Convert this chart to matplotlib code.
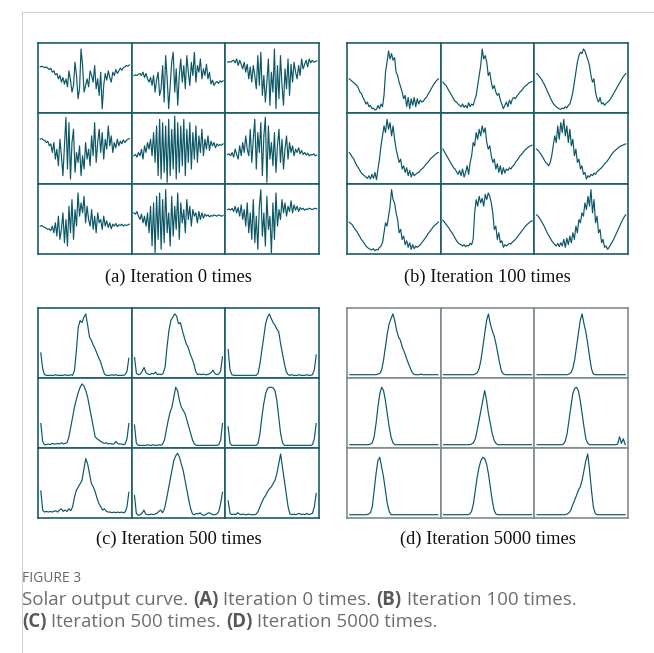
import numpy as np
import matplotlib
matplotlib.use("Agg")
import matplotlib.pyplot as plt

# ---------------- data (normalised, 0 = cell bottom, 1 = cell top) ----------------
a1 = [0.68,0.69,0.68,0.67,0.68,0.66,0.64,0.66,0.60,0.62,0.56,0.58,0.50,0.55,0.45,0.52,0.42,0.50,0.38,0.62,0.48,0.30,0.40,0.75,0.55,0.20,0.35,0.95,0.70,0.30,0.40,0.50,0.38,0.62,0.55,0.45,0.70,0.35,0.50,0.25,0.60,0.05,0.40,0.58,0.48,0.62,0.52,0.45,0.60,0.55,0.64,0.58,0.62,0.66,0.63,0.67,0.68,0.70,0.69,0.71]
a2 = [0.55,0.56,0.55,0.57,0.58,0.55,0.60,0.52,0.58,0.50,0.45,0.52,0.40,0.55,0.30,0.48,0.60,0.25,0.35,0.70,0.15,0.85,0.50,0.05,0.40,0.75,0.90,0.30,0.65,0.10,0.55,0.80,0.45,0.70,0.35,0.85,0.60,0.40,0.75,0.55,0.90,0.45,0.70,0.60,0.80,0.50,0.65,0.55,0.72,0.50,0.60,0.42,0.48,0.40,0.44,0.46,0.43,0.47,0.45,0.47]
a3 = [0.75,0.76,0.75,0.77,0.78,0.74,0.80,0.70,0.78,0.72,0.65,0.75,0.60,0.72,0.50,0.68,0.45,0.70,0.55,0.35,0.85,0.40,0.90,0.25,0.55,0.15,0.45,0.80,0.10,0.60,0.30,0.95,0.05,0.70,0.20,0.85,0.40,0.10,0.65,0.35,0.80,0.25,0.72,0.45,0.75,0.60,0.50,0.70,0.55,0.80,0.65,0.72,0.78,0.68,0.80,0.74,0.78,0.75,0.76,0.77]
a4 = [0.65,0.66,0.64,0.63,0.60,0.62,0.55,0.58,0.45,0.60,0.35,0.50,0.25,0.65,0.40,0.10,0.55,0.98,0.20,0.90,0.05,0.60,0.80,0.15,0.45,0.30,0.55,0.10,0.40,0.20,0.60,0.35,0.50,0.25,0.70,0.40,0.90,0.30,0.60,0.80,0.45,0.75,0.35,0.65,0.50,0.85,0.55,0.70,0.45,0.60,0.52,0.65,0.55,0.62,0.58,0.64,0.60,0.63,0.65,0.66]
a5 = [0.40,0.42,0.38,0.45,0.40,0.50,0.35,0.55,0.45,0.60,0.50,0.65,0.40,0.75,0.30,0.85,0.10,0.95,0.05,0.90,0.15,0.85,0.00,0.95,0.10,0.80,0.20,1.00,0.05,0.90,0.15,0.85,0.25,0.95,0.10,0.80,0.30,0.90,0.20,0.75,0.35,0.85,0.30,0.70,0.45,0.80,0.40,0.65,0.50,0.70,0.48,0.62,0.55,0.60,0.52,0.58,0.55,0.57,0.56,0.58]
a6 = [0.42,0.43,0.40,0.45,0.38,0.50,0.42,0.35,0.55,0.40,0.60,0.45,0.70,0.50,0.40,0.80,0.30,0.65,0.95,0.20,0.75,0.45,0.90,0.10,0.70,0.98,0.00,0.85,0.35,0.60,0.25,0.75,0.15,0.55,0.80,0.30,0.65,0.20,0.50,0.70,0.35,0.60,0.45,0.55,0.40,0.50,0.45,0.52,0.43,0.48,0.42,0.45,0.41,0.44,0.40,0.42,0.41,0.43,0.40,0.41]
a7 = [0.40,0.41,0.39,0.38,0.37,0.35,0.36,0.33,0.40,0.30,0.45,0.25,0.55,0.20,0.35,0.60,0.15,0.50,0.10,0.70,0.30,0.80,0.20,0.65,0.40,0.90,0.55,0.75,0.60,0.85,0.45,0.70,0.50,0.40,0.65,0.35,0.55,0.30,0.60,0.45,0.50,0.35,0.55,0.40,0.48,0.38,0.45,0.36,0.43,0.40,0.44,0.39,0.42,0.41,0.43,0.40,0.42,0.41,0.42,0.43]
a8 = [0.60,0.58,0.62,0.55,0.50,0.58,0.45,0.55,0.40,0.60,0.30,0.70,0.10,0.75,0.00,0.85,0.20,0.90,0.05,0.80,0.15,0.95,0.30,0.60,0.10,0.85,0.25,0.70,0.35,0.90,0.20,0.75,0.45,0.65,0.30,0.80,0.50,0.70,0.40,0.65,0.55,0.60,0.45,0.62,0.50,0.60,0.52,0.58,0.55,0.57,0.54,0.56,0.55,0.57,0.56,0.55,0.57,0.56,0.55,0.56]
a9 = [0.65,0.66,0.64,0.67,0.62,0.70,0.60,0.68,0.55,0.72,0.50,0.65,0.40,0.75,0.30,0.60,0.20,0.80,0.15,0.55,0.05,0.70,0.95,0.25,0.60,0.10,0.85,0.35,0.55,0.00,0.75,0.20,0.90,0.40,0.65,0.50,0.80,0.60,0.75,0.55,0.70,0.62,0.78,0.60,0.72,0.64,0.70,0.62,0.68,0.65,0.67,0.64,0.66,0.65,0.67,0.66,0.65,0.66,0.67,0.66]

b1 = [0.50,0.48,0.46,0.44,0.42,0.40,0.36,0.30,0.28,0.22,0.18,0.12,0.15,0.08,0.10,0.05,0.06,0.03,0.04,0.10,0.05,0.12,0.08,0.25,0.60,0.75,0.92,0.80,0.88,0.78,0.82,0.60,0.55,0.45,0.38,0.30,0.20,0.25,0.08,0.22,0.05,0.20,0.10,0.22,0.08,0.20,0.12,0.18,0.15,0.16,0.20,0.22,0.26,0.30,0.34,0.38,0.42,0.45,0.48,0.50]
b2 = [0.45,0.42,0.40,0.36,0.32,0.28,0.24,0.20,0.16,0.15,0.12,0.10,0.08,0.12,0.07,0.10,0.06,0.14,0.08,0.12,0.10,0.18,0.25,0.40,0.55,0.70,0.95,0.80,0.85,0.75,0.55,0.60,0.45,0.35,0.40,0.30,0.25,0.28,0.18,0.12,0.05,0.10,0.15,0.08,0.18,0.12,0.20,0.22,0.20,0.24,0.27,0.30,0.32,0.35,0.38,0.40,0.42,0.44,0.45,0.46]
b3 = [0.58,0.56,0.53,0.50,0.46,0.42,0.37,0.32,0.27,0.22,0.17,0.13,0.10,0.08,0.06,0.05,0.04,0.06,0.05,0.08,0.06,0.10,0.12,0.20,0.30,0.45,0.60,0.75,0.85,0.90,0.88,0.95,0.92,0.85,0.78,0.70,0.55,0.45,0.50,0.30,0.20,0.15,0.22,0.12,0.14,0.10,0.13,0.15,0.17,0.20,0.24,0.28,0.32,0.36,0.40,0.44,0.48,0.52,0.55,0.58]
b4 = [0.45,0.42,0.38,0.35,0.30,0.25,0.22,0.18,0.14,0.12,0.10,0.08,0.06,0.10,0.05,0.12,0.06,0.15,0.04,0.20,0.35,0.55,0.70,0.85,0.75,0.95,0.80,0.90,0.70,0.85,0.65,0.50,0.40,0.30,0.35,0.20,0.25,0.15,0.22,0.10,0.18,0.08,0.15,0.10,0.12,0.14,0.15,0.18,0.20,0.22,0.25,0.28,0.30,0.33,0.36,0.38,0.40,0.42,0.44,0.45]
b5 = [0.50,0.46,0.42,0.38,0.34,0.30,0.26,0.22,0.20,0.16,0.12,0.18,0.10,0.20,0.08,0.15,0.25,0.12,0.30,0.40,0.60,0.55,0.75,0.65,0.80,0.70,0.85,0.75,0.82,0.60,0.50,0.55,0.40,0.30,0.35,0.20,0.28,0.15,0.25,0.12,0.22,0.14,0.20,0.18,0.22,0.20,0.24,0.26,0.30,0.33,0.36,0.40,0.42,0.45,0.48,0.50,0.52,0.54,0.55,0.56]
b6 = [0.50,0.48,0.45,0.42,0.38,0.34,0.30,0.28,0.25,0.30,0.40,0.55,0.70,0.60,0.85,0.65,0.90,0.75,0.95,0.70,0.85,0.60,0.80,0.55,0.65,0.40,0.50,0.30,0.35,0.20,0.25,0.12,0.15,0.05,0.10,0.08,0.12,0.10,0.14,0.12,0.16,0.18,0.20,0.22,0.25,0.28,0.30,0.33,0.36,0.40,0.43,0.46,0.48,0.50,0.52,0.54,0.55,0.56,0.57,0.58]
b7 = [0.46,0.44,0.42,0.38,0.35,0.32,0.28,0.24,0.20,0.17,0.14,0.10,0.08,0.06,0.05,0.04,0.06,0.03,0.05,0.04,0.08,0.10,0.15,0.30,0.45,0.40,0.55,0.70,0.95,0.80,0.75,0.60,0.50,0.30,0.35,0.20,0.25,0.12,0.18,0.08,0.15,0.05,0.12,0.06,0.10,0.08,0.10,0.12,0.15,0.18,0.21,0.24,0.28,0.31,0.34,0.37,0.40,0.42,0.44,0.46]
b8 = [0.49,0.46,0.43,0.40,0.37,0.33,0.30,0.26,0.22,0.18,0.15,0.13,0.12,0.10,0.12,0.09,0.11,0.10,0.14,0.12,0.20,0.60,0.80,0.70,0.85,0.75,0.82,0.70,0.88,0.80,0.90,0.85,0.75,0.60,0.35,0.40,0.20,0.30,0.15,0.18,0.08,0.12,0.10,0.12,0.14,0.13,0.16,0.18,0.20,0.23,0.26,0.29,0.32,0.35,0.38,0.41,0.43,0.45,0.47,0.48]
b9 = [0.57,0.55,0.52,0.48,0.44,0.40,0.35,0.30,0.26,0.22,0.18,0.15,0.12,0.10,0.14,0.09,0.15,0.10,0.20,0.08,0.22,0.12,0.25,0.15,0.30,0.20,0.40,0.30,0.50,0.45,0.60,0.55,0.75,0.65,0.85,0.70,0.95,0.60,0.80,0.45,0.55,0.30,0.35,0.15,0.20,0.08,0.10,0.05,0.08,0.12,0.16,0.20,0.25,0.30,0.35,0.40,0.45,0.50,0.54,0.57]

c1 = [0.36,0.12,0.03,0.02,0.02,0.02,0.02,0.02,0.03,0.02,0.02,0.02,0.02,0.03,0.02,0.02,0.03,0.02,0.10,0.40,0.75,0.85,0.82,0.90,0.95,0.78,0.60,0.55,0.48,0.42,0.35,0.28,0.22,0.12,0.04,0.02,0.02,0.02,0.03,0.02,0.03,0.02,0.02,0.02,0.02,0.03,0.08,0.28]
c2 = [0.29,0.05,0.03,0.04,0.08,0.14,0.06,0.04,0.03,0.05,0.04,0.07,0.03,0.04,0.03,0.05,0.15,0.45,0.70,0.85,0.90,0.95,0.92,0.80,0.82,0.70,0.60,0.50,0.45,0.35,0.28,0.20,0.08,0.03,0.04,0.03,0.04,0.03,0.03,0.04,0.06,0.10,0.05,0.03,0.04,0.08,0.30]
c3 = [0.41,0.10,0.03,0.02,0.02,0.02,0.02,0.02,0.02,0.02,0.02,0.02,0.02,0.02,0.02,0.02,0.05,0.20,0.40,0.60,0.80,0.90,0.95,0.88,0.82,0.78,0.72,0.68,0.50,0.35,0.20,0.08,0.03,0.02,0.03,0.02,0.02,0.02,0.03,0.02,0.02,0.02,0.03,0.02,0.02,0.03,0.10,0.33]
c4 = [0.35,0.08,0.03,0.03,0.04,0.03,0.05,0.04,0.04,0.05,0.04,0.06,0.04,0.05,0.06,0.15,0.30,0.45,0.60,0.72,0.82,0.90,0.95,0.92,0.85,0.75,0.60,0.45,0.30,0.15,0.12,0.10,0.08,0.06,0.05,0.06,0.04,0.05,0.04,0.04,0.08,0.05,0.04,0.04,0.03,0.04,0.12,0.35]
c5 = [0.33,0.05,0.02,0.02,0.02,0.02,0.02,0.03,0.02,0.02,0.03,0.02,0.02,0.03,0.02,0.04,0.10,0.25,0.40,0.52,0.60,0.75,0.90,0.85,0.70,0.60,0.55,0.50,0.40,0.30,0.20,0.10,0.04,0.02,0.02,0.02,0.02,0.02,0.02,0.02,0.02,0.02,0.02,0.02,0.02,0.03,0.10,0.35]
c6 = [0.30,0.05,0.02,0.02,0.02,0.02,0.02,0.02,0.02,0.02,0.02,0.02,0.02,0.02,0.02,0.02,0.05,0.20,0.45,0.65,0.80,0.88,0.90,0.90,0.89,0.85,0.70,0.45,0.20,0.06,0.02,0.02,0.02,0.02,0.02,0.02,0.02,0.02,0.02,0.02,0.02,0.02,0.02,0.02,0.02,0.03,0.12,0.35]
c7 = [0.39,0.10,0.07,0.08,0.07,0.08,0.07,0.08,0.09,0.07,0.10,0.12,0.08,0.10,0.08,0.12,0.09,0.15,0.30,0.40,0.45,0.50,0.55,0.72,0.88,0.80,0.65,0.50,0.45,0.38,0.28,0.20,0.15,0.10,0.12,0.08,0.07,0.07,0.06,0.07,0.06,0.07,0.06,0.07,0.06,0.07,0.15,0.37]
c8 = [0.32,0.05,0.02,0.03,0.05,0.10,0.04,0.03,0.03,0.04,0.03,0.04,0.05,0.08,0.10,0.06,0.12,0.25,0.40,0.55,0.70,0.85,0.92,0.96,0.90,0.80,0.70,0.55,0.40,0.25,0.12,0.04,0.03,0.05,0.04,0.06,0.03,0.02,0.03,0.05,0.06,0.04,0.03,0.03,0.04,0.08,0.20,0.37]
c9 = [0.24,0.05,0.03,0.04,0.03,0.06,0.04,0.03,0.04,0.03,0.03,0.04,0.03,0.03,0.03,0.04,0.08,0.15,0.22,0.28,0.32,0.38,0.42,0.45,0.50,0.55,0.65,0.80,0.95,0.75,0.55,0.35,0.15,0.04,0.03,0.04,0.03,0.04,0.05,0.03,0.04,0.03,0.05,0.03,0.04,0.05,0.15,0.35]

d1 = [0.03,0.03,0.03,0.03,0.03,0.03,0.03,0.03,0.03,0.03,0.03,0.03,0.03,0.03,0.03,0.04,0.05,0.10,0.25,0.45,0.65,0.80,0.88,0.95,0.85,0.70,0.60,0.55,0.45,0.38,0.30,0.22,0.15,0.08,0.04,0.03,0.03,0.03,0.04,0.03,0.03,0.03,0.03,0.03,0.03,0.03,0.03,0.03]
d2 = [0.03,0.03,0.03,0.03,0.03,0.03,0.03,0.03,0.03,0.03,0.03,0.03,0.03,0.03,0.03,0.03,0.03,0.04,0.06,0.12,0.25,0.45,0.65,0.85,0.95,0.80,0.70,0.62,0.50,0.35,0.20,0.08,0.04,0.03,0.03,0.03,0.03,0.03,0.03,0.03,0.03,0.03,0.03,0.03,0.03,0.03,0.03,0.03]
d3 = [0.03,0.03,0.03,0.03,0.03,0.03,0.03,0.03,0.03,0.03,0.03,0.03,0.03,0.03,0.03,0.03,0.03,0.04,0.06,0.12,0.25,0.45,0.65,0.85,0.95,0.80,0.68,0.50,0.30,0.12,0.04,0.03,0.03,0.03,0.03,0.03,0.03,0.03,0.03,0.03,0.03,0.03,0.03,0.03,0.03,0.03,0.03,0.03]
d4 = [0.03,0.03,0.03,0.03,0.03,0.03,0.03,0.03,0.03,0.03,0.03,0.04,0.06,0.15,0.35,0.60,0.80,0.90,0.85,0.70,0.50,0.30,0.15,0.06,0.03,0.03,0.03,0.03,0.03,0.03,0.03,0.03,0.03,0.03,0.03,0.03,0.03,0.03,0.03,0.03,0.03,0.03,0.03,0.03,0.03,0.03,0.03,0.03]
d5 = [0.03,0.03,0.03,0.03,0.03,0.03,0.03,0.03,0.03,0.03,0.03,0.03,0.03,0.03,0.03,0.04,0.06,0.12,0.25,0.40,0.55,0.70,0.85,0.70,0.50,0.35,0.20,0.10,0.05,0.03,0.03,0.03,0.03,0.03,0.03,0.03,0.03,0.03,0.03,0.03,0.03,0.03,0.03,0.03,0.03,0.03,0.03,0.03]
d6 = [0.03,0.03,0.03,0.03,0.03,0.03,0.03,0.03,0.03,0.03,0.03,0.03,0.03,0.03,0.04,0.08,0.20,0.40,0.60,0.80,0.88,0.90,0.85,0.70,0.50,0.30,0.12,0.05,0.03,0.03,0.03,0.03,0.03,0.03,0.03,0.03,0.03,0.03,0.03,0.03,0.03,0.03,0.03,0.04,0.15,0.05,0.12,0.03]
d7 = [0.03,0.03,0.03,0.03,0.03,0.03,0.03,0.03,0.03,0.03,0.04,0.06,0.15,0.40,0.65,0.85,0.90,0.75,0.60,0.40,0.20,0.08,0.03,0.03,0.03,0.03,0.03,0.03,0.03,0.03,0.03,0.03,0.03,0.03,0.03,0.03,0.03,0.03,0.03,0.03,0.03,0.03,0.03,0.03,0.03,0.03,0.03,0.03]
d8 = [0.03,0.03,0.03,0.03,0.03,0.03,0.03,0.03,0.03,0.03,0.03,0.03,0.03,0.03,0.04,0.08,0.20,0.40,0.60,0.75,0.85,0.90,0.88,0.80,0.65,0.45,0.25,0.10,0.04,0.03,0.03,0.03,0.03,0.03,0.03,0.03,0.03,0.03,0.03,0.03,0.03,0.03,0.03,0.03,0.03,0.03,0.03,0.03]
d9 = [0.03,0.03,0.03,0.03,0.03,0.03,0.03,0.03,0.03,0.03,0.03,0.03,0.03,0.03,0.03,0.03,0.04,0.06,0.10,0.18,0.25,0.32,0.40,0.45,0.55,0.70,0.85,0.95,0.70,0.40,0.15,0.05,0.03,0.03,0.03,0.03,0.03,0.03,0.03,0.03,0.03,0.03,0.03,0.03,0.03,0.03,0.03,0.03]

panel_titles = ["(a) Iteration 0 times", "(b) Iteration 100 times",
                "(c) Iteration 500 times", "(d) Iteration 5000 times"]
panel_series = [[a1, a2, a3, a4, a5, a6, a7, a8, a9],
                [b1, b2, b3, b4, b5, b6, b7, b8, b9],
                [c1, c2, c3, c4, c5, c6, c7, c8, c9],
                [d1, d2, d3, d4, d5, d6, d7, d8, d9]]

# ---------------- layout ----------------
W, H = 654, 653
fig = plt.figure(figsize=(W / 100, H / 100), dpi=100)
fig.patch.set_facecolor("white")

line_col = "#0c5766"
frame_cols = ["#1d5c6b", "#1d5c6b", "#1d5c6b", "#7f8c8f"]
panel_boxes = [(38, 43, 319, 254), (347, 43, 628, 254),
               (38, 308, 319, 518), (347, 308, 628, 518)]
caption_y = [277, 277, 539, 539]


def px_axes(x0, y0, x1, y1):
    return fig.add_axes([x0 / W, 1 - y1 / H, (x1 - x0) / W, (y1 - y0) / H])


for p, (box, series) in enumerate(zip(panel_boxes, panel_series)):
    x0, y0, x1, y1 = box
    cw = (x1 - x0) / 3
    ch = (y1 - y0) / 3
    for k, ys in enumerate(series):
        r, c = divmod(k, 3)
        ax = px_axes(x0 + c * cw, y0 + r * ch, x0 + (c + 1) * cw, y0 + (r + 1) * ch)
        ax.plot(np.arange(len(ys)), ys, color=line_col, lw=0.85)
        ax.set_xlim(-1.5, len(ys) + 0.5)
        ax.set_ylim(-0.02, 1.04)
        ax.set_xticks([])
        ax.set_yticks([])
        for s in ax.spines.values():
            s.set_color(frame_cols[p])
            s.set_linewidth(1.2)
    fig.text((x0 + x1) / 2 / W, 1 - caption_y[p] / H, panel_titles[p],
             ha="center", va="center", family="Liberation Serif", fontsize=13.3,
             color="#111111")

# page decoration lines
fig.add_artist(plt.Line2D([22 / W, 22 / W], [0, 1 - 12 / H], color="#d0d0d0", lw=0.8))
fig.add_artist(plt.Line2D([22 / W, 1], [1 - 12 / H, 1 - 12 / H], color="#d0d0d0", lw=0.8))

# figure caption
fig.text(22 / W, 1 - 578 / H, "FIGURE 3", ha="left", va="center",
         family="Open Sans", fontsize=10, color="#666666")

cap_lines = [
    [("Solar output curve. ", "normal"), ("(A)", "bold"), (" Iteration 0 times. ", "normal"),
     ("(B)", "bold"), (" Iteration 100 times.", "normal")],
    [("(C)", "bold"), (" Iteration 500 times. ", "normal"), ("(D)", "bold"),
     (" Iteration 5000 times.", "normal")],
]
cap_y = [600, 622]
cap_size = 13.5

renderer = fig.canvas.get_renderer()
for parts, yy in zip(cap_lines, cap_y):
    x = 22
    for txt, wt in parts:
        col = "#585858" if wt == "bold" else "#6e6e6e"
        t = fig.text(x / W, 1 - yy / H, txt, ha="left", va="center",
                     family="Open Sans", fontsize=cap_size, weight=wt, color=col)
        x += t.get_window_extent(renderer).width

fig.savefig("out.png", dpi=100, facecolor="white")
